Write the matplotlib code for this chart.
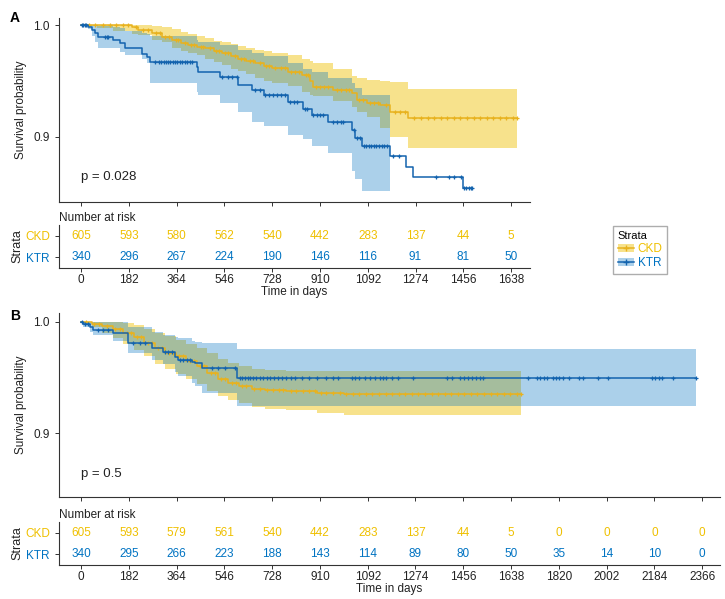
import numpy as np
import matplotlib.pyplot as plt
from matplotlib.lines import Line2D
from matplotlib.patches import Patch

plt.rcParams['font.family'] = ['Liberation Sans', 'DejaVu Sans']
plt.rcParams['font.size'] = 8

W, H = 725, 599

CKD_COL = '#EFC000'
KTR_COL = '#0073C2'
CKD_LINE = '#E8B21E'
KTR_LINE = '#1363AE'

# ---------------- panel A ----------------
a_ckd_t = [0, 60, 120, 195, 218, 269, 307, 345, 380, 409, 440, 472, 505, 536, 570, 599,
           630, 663, 695, 726, 790, 840, 872, 885, 960, 1031, 1050, 1088, 1140, 1177, 1247]
a_ckd_s = [1.0, 1.0, 1.0, .9985, .9955, .9925, .9896, .9866, .984, .982, .9805, .979, .977,
           .9746, .972, .970, .968, .9657, .9635, .9612, .958, .955, .950, .9448, .9418,
           .939, .933, .930, .928, .922, .917]
a_ckd_hi = [1.0, 1.0, 1.0, 1.0, 1.0, .999, .998, .996, .994, .992, .990, .988, .986, .985,
            .983, .981, .979, .978, .977, .975, .973, .970, .968, .966, .961, .954, .953,
            .951, .950, .949, .943]
a_ckd_lo = [1.0, .997, .995, .992, .991, .987, .985, .979, .977, .975, .973, .970, .967,
            .964, .961, .959, .956, .953, .950, .948, .945, .940, .937, .936, .932, .927,
            .922, .918, .908, .900, .890]
a_ckd_end = 1660
a_ckd_cens = [30, 55, 85, 110, 135, 160, 180, 210, 235, 255, 285, 300, 320, 335, 360, 370,
              395, 420, 430, 455, 465, 490, 515, 525, 550, 560, 585, 610, 620, 645, 655, 680,
              705, 715, 740, 760, 775, 800, 815, 830, 855, 865, 895, 910, 925, 940, 975, 990,
              1010, 1020, 1060, 1075, 1100, 1115, 1130, 1160, 1195, 1215, 1235, 1270, 1295,
              1320, 1345, 1370, 1395, 1420, 1445, 1470, 1495, 1520, 1545, 1570, 1595, 1620,
              1645, 1660]

a_ktr_t = [0, 28, 41, 53, 66, 123, 149, 168, 231, 250, 263, 441, 447, 530, 599, 650, 695,
           790, 847, 879, 942, 1031, 1044, 1069, 1175, 1238, 1266, 1454]
a_ktr_s = [1.0, .9985, .9955, .9925, .9896, .9866, .9836, .9791, .9737, .9717, .9672, .9627,
           .9582, .9537, .9463, .9418, .9373, .9308, .9248, .9194, .9129, .906, .8985, .892,
           .883, .8732, .8636, .8538]
a_ktr_end = 1490
# the KTR band stops at day 1175
a_ktr_ci_t = [0, 28, 41, 53, 66, 123, 149, 168, 231, 250, 263, 441, 447, 530, 599, 650, 695,
              790, 847, 879, 942, 1031, 1044, 1069]
a_ktr_hi = [1.0, 1.0, 1.0, 1.0, .999, .998, .997, .995, .993, .992, .990, .987, .985, .982,
            .978, .975, .972, .966, .961, .958, .953, .948, .944, .937]
a_ktr_lo = [1.0, .996, .990, .985, .979, .979, .976, .973, .970, .966, .948, .940, .937, .930,
            .922, .913, .910, .9015, .898, .892, .885, .869, .862, .851]
a_ktr_ci_end = 1175
a_ktr_cens = [2, 8, 14, 20, 91, 98, 104, 282, 295, 305, 315, 322, 330, 340, 350, 358, 365,
              375, 385, 395, 405, 415, 422, 536, 560, 575, 593, 663, 680, 700, 714, 730, 745,
              760, 777, 796, 810, 821, 853, 860, 885, 900, 912, 923, 961, 975, 990, 999, 1038,
              1050, 1063, 1076, 1085, 1095, 1105, 1115, 1125, 1135, 1145, 1155, 1164, 1187,
              1212, 1352, 1403, 1422, 1447, 1460, 1468, 1476, 1484, 1490]

risk_a_ticks = [0, 182, 364, 546, 728, 910, 1092, 1274, 1456, 1638]
risk_a_ckd = [605, 593, 580, 562, 540, 442, 283, 137, 44, 5]
risk_a_ktr = [340, 296, 267, 224, 190, 146, 116, 91, 81, 50]

# ---------------- panel B ----------------
b_ckd_t = [0, 40, 80, 120, 160, 200, 240, 280, 320, 360, 400, 440, 480, 520, 560, 600, 650,
           700, 780, 900, 1000]
b_ckd_s = [1.0, .998, .996, .993, .990, .986, .981, .976, .972, .969, .965, .960, .954, .949,
           .945, .942, .940, .939, .9375, .936, .9355]
b_ckd_hi = [1.0, 1.0, 1.0, 1.0, .999, .997, .993, .990, .987, .984, .980, .976, .972, .967,
            .963, .960, .958, .957, .956, .956, .9559]
b_ckd_lo = [1.0, .995, .990, .985, .980, .975, .969, .962, .958, .953, .949, .944, .938, .933,
            .930, .927, .924, .922, .921, .918, .9165]
b_ckd_end = 1676
b_ckd_cens = [20, 50, 70, 100, 130, 150, 175, 190, 215, 230, 255, 270, 295, 310, 335, 350,
              375, 390, 415, 430, 455, 470, 495, 510, 535, 550, 575, 590, 615, 630, 660, 680,
              710, 730, 755, 770, 800, 820, 845, 870, 890, 915, 935, 960, 985, 1010, 1035,
              1060, 1085, 1110, 1135, 1160, 1185, 1210, 1235, 1260, 1285, 1310, 1335, 1360,
              1385, 1410, 1435, 1460, 1485, 1510, 1535, 1560, 1585, 1610, 1635, 1660, 1676]

b_ktr_t = [0, 8, 34, 47, 123, 180, 269, 314, 358, 371, 422, 434, 460, 593]
b_ktr_s = [1.0, .998, .9955, .9925, .9896, .9806, .9761, .9731, .9687, .9657, .964, .9627,
           .9582, .9493]
b_ktr_hi = [1.0, 1.0, 1.0, 1.0, 1.0, .9955, .991, .988, .986, .985, .983, .982, .981, .9755]
b_ktr_lo = [1.0, .995, .991, .988, .983, .972, .966, .962, .955, .951, .945, .942, .9365, .9245]
b_ktr_end = 2343
b_ktr_cens = [5, 15, 28, 66, 85, 104, 199, 225, 244, 320, 333, 345, 377, 390, 403, 415, 498,
              523, 549, 587, 606, 615, 625, 635, 645, 655, 665, 680, 695, 710, 720, 735, 750,
              765, 780, 800, 815, 840, 870, 898, 935, 960, 980, 1031, 1045, 1060, 1080, 1100,
              1120, 1139, 1150, 1160, 1183, 1209, 1266, 1393, 1412, 1444, 1460, 1475, 1490,
              1505, 1520, 1533, 1704, 1736, 1750, 1762, 1774, 1799, 1810, 1820, 1835, 1857,
              1895, 1914, 1971, 2009, 2174, 2185, 2200, 2212, 2256, 2343]

risk_b_ticks = [0, 182, 364, 546, 728, 910, 1092, 1274, 1456, 1638, 1820, 2002, 2184, 2366]
risk_b_ckd = [605, 593, 579, 561, 540, 442, 283, 137, 44, 5, 0, 0, 0, 0]
risk_b_ktr = [340, 295, 266, 223, 188, 143, 114, 89, 80, 50, 35, 14, 10, 0]


def px_axes(fig, left, top, right, bottom):
    """axes placed by pixel edges of the 725x599 picture"""
    return fig.add_axes([left / W, 1 - bottom / H, (right - left) / W, (bottom - top) / H])


def draw_curve(ax, t, s, t_end, cens, col, line_col, ci_t, ci_lo, ci_hi, ci_end, alpha):
    # confidence band
    bt = list(ci_t) + [ci_end]
    ax.fill_between(bt, list(ci_lo) + [ci_lo[-1]], list(ci_hi) + [ci_hi[-1]],
                    step='post', color=col, alpha=alpha, lw=0)
    # KM step line
    ax.step(list(t) + [t_end], list(s) + [s[-1]], where='post', color=line_col, lw=1.1)
    # censored observations
    idx = np.searchsorted(t, cens, side='right') - 1
    ax.plot(cens, np.array(s)[idx], ls='none', marker='+', ms=3.5, mew=0.9, color=line_col)


def style_axes(ax):
    for sp in ['top', 'right']:
        ax.spines[sp].set_visible(False)
    for sp in ['left', 'bottom']:
        ax.spines[sp].set_color('#333333')
        ax.spines[sp].set_linewidth(0.8)
    ax.tick_params(length=3, width=0.7, colors='#333333', labelcolor='#222222', labelsize=8.5)


def style_main(ax, xlim, ylim, ticks, pval):
    ax.set_xlim(xlim)
    ax.set_ylim(ylim)
    ax.set_xticks(ticks)
    ax.set_xticklabels([])
    ax.set_yticks([0.9, 1.0])
    ax.set_yticklabels(['0.9', '1.0'])
    style_axes(ax)
    ax.set_ylabel('Survival probability', fontsize=8.5, color='#222222', labelpad=5)
    ax.text(0, 0.864, pval, fontsize=9.5, color='#222222', va='center', ha='left')


def draw_risk(ax, xlim, ticks, ckd, ktr):
    ax.set_xlim(xlim)
    ax.set_ylim(0.5, 2.5)
    for x, n in zip(ticks, ckd):
        ax.text(x, 2, str(n), color=CKD_COL, ha='center', va='center', fontsize=8.5)
    for x, n in zip(ticks, ktr):
        ax.text(x, 1, str(n), color=KTR_COL, ha='center', va='center', fontsize=8.5)
    style_axes(ax)
    ax.tick_params(axis='x', pad=1.5)
    ax.set_xticks(ticks)
    ax.set_yticks([1, 2])
    ax.set_yticklabels(['KTR', 'CKD'], fontsize=8.5)
    for lab, c in zip(ax.get_yticklabels(), [KTR_COL, CKD_COL]):
        lab.set_color(c)
    ax.set_xlabel('Time in days', fontsize=8.5, color='#222222', labelpad=0)
    ax.set_ylabel('Strata', fontsize=9, color='#222222', labelpad=1)
    ax.set_title('Number at risk', loc='left', fontsize=8.5, color='#222222', pad=3)


fig = plt.figure(figsize=(W / 100, H / 100), dpi=100)

# ---- panel A ----
xlim_a = (-84, 1710)
ax_a = px_axes(fig, 59, 18.3, 530, 201.5)
draw_curve(ax_a, a_ckd_t, a_ckd_s, a_ckd_end, a_ckd_cens, CKD_COL, CKD_LINE,
           a_ckd_t, a_ckd_lo, a_ckd_hi, a_ckd_end, 0.45)
draw_curve(ax_a, a_ktr_t, a_ktr_s, a_ktr_end, a_ktr_cens, KTR_COL, KTR_LINE,
           a_ktr_ci_t, a_ktr_lo, a_ktr_hi, a_ktr_ci_end, 0.33)
style_main(ax_a, xlim_a, (0.842, 1.006), risk_a_ticks, 'p = 0.028')
fig.text(10 / W, 1 - 11 / H, 'A', fontsize=10, fontweight='bold', va='top', ha='left')

tab_a = px_axes(fig, 59, 225, 530, 268)
draw_risk(tab_a, xlim_a, risk_a_ticks, risk_a_ckd, risk_a_ktr)

# legend to the right of panel A
handles = [(Patch(color=CKD_COL, alpha=0.45, lw=0),
            Line2D([], [], color=CKD_LINE, marker='+', lw=1.1, ms=5)),
           (Patch(color=KTR_COL, alpha=0.33, lw=0),
            Line2D([], [], color=KTR_LINE, marker='+', lw=1.1, ms=5))]
leg = fig.legend(handles, ['CKD', 'KTR'], title='Strata', loc='upper left',
                 bbox_to_anchor=(613 / W, 1 - 226 / H), borderaxespad=0, frameon=True,
                 fancybox=False, edgecolor='#999999', fontsize=8.5, title_fontsize=8,
                 handlelength=1.4, handletextpad=0.3, borderpad=0.4, labelspacing=0.2)
leg._legend_box.align = 'left'
for txt, c in zip(leg.get_texts(), [CKD_COL, KTR_COL]):
    txt.set_color(c)

# ---- panel B ----
xlim_b = (-84, 2434)
ax_b = px_axes(fig, 59, 313.5, 720, 497)
draw_curve(ax_b, b_ckd_t, b_ckd_s, b_ckd_end, b_ckd_cens, CKD_COL, CKD_LINE,
           b_ckd_t, b_ckd_lo, b_ckd_hi, b_ckd_end, 0.45)
draw_curve(ax_b, b_ktr_t, b_ktr_s, b_ktr_end, b_ktr_cens, KTR_COL, KTR_LINE,
           b_ktr_t, b_ktr_lo, b_ktr_hi, b_ktr_end, 0.33)
style_main(ax_b, xlim_b, (0.843, 1.0073), risk_b_ticks, 'p = 0.5')
fig.text(10 / W, 1 - 309 / H, 'B', fontsize=10, fontweight='bold', va='top', ha='left')

tab_b = px_axes(fig, 59, 522, 720, 565)
draw_risk(tab_b, xlim_b, risk_b_ticks, risk_b_ckd, risk_b_ktr)

fig.savefig('out.png', dpi=100)
